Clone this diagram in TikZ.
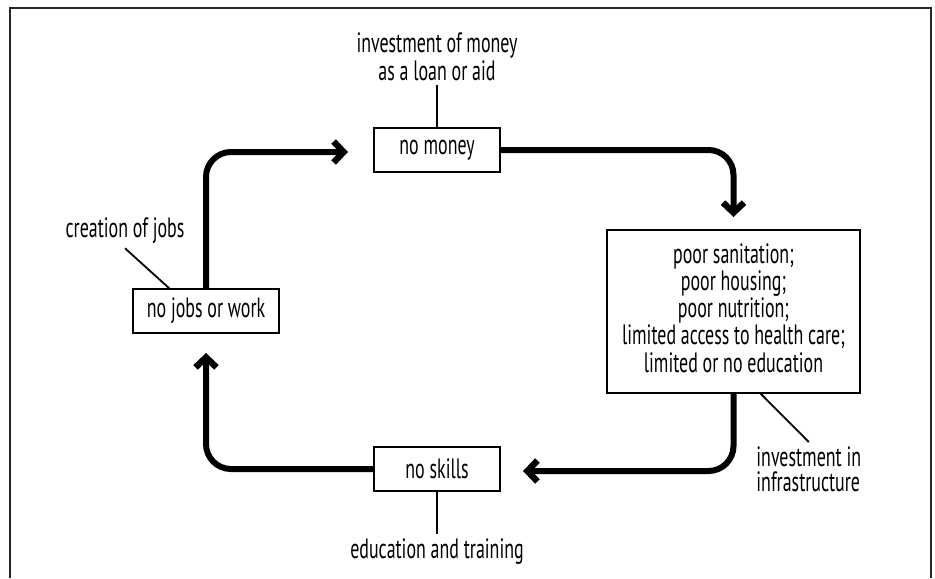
\documentclass[tikz,border=0pt]{standalone}
\usepackage{fontspec}
\setmainfont{PT Sans}[FakeStretch=0.64]
\usetikzlibrary{positioning,arrows.meta}

\tikzset{
  box/.style={draw, line width=0.8pt, minimum height=22pt, inner sep=0pt,
    align=center, font=\fontsize{14}{12.2}\selectfont},
  note/.style={align=center, inner sep=2pt, font=\fontsize{14}{12.5}\selectfont},
  flow/.style={line width=3pt, rounded corners=12.5pt,
    -{Straight Barb[length=5pt,width=10.5pt,line width=3.2pt]}},
  tag/.style={line width=0.9pt},
  frame/.style={line width=0.6pt, draw=black!85}
}

\begin{document}
\begin{tikzpicture}[x=0.5pt,y=-0.5pt]
  \useasboundingbox (0,0) rectangle (935,578);
  \draw[frame] (10,578) |- (931,8) -- (931,578);

  % the four boxes of the cycle
  \node (money) [box, minimum width=63pt] at (437,150) {no money};
  \node (poor) [box, minimum width=126.5pt, minimum height=81.5pt] at (733.5,311.5)
    {\raisebox{4.5pt}{\begin{tabular}{@{}c@{}}poor sanitation;\\poor housing;\\poor nutrition;\\limited access to health care;\\limited or no education\end{tabular}}};
  \node (skills) [box, minimum width=63pt] at (437,469) {no skills};
  \node (jobs) [box, minimum width=73pt] at (206,311) {no jobs or work};

  % ways out
  \node (loan) [note, above=21pt of money] {investment of money\\as a loan or aid};
  \draw[tag] (loan) -- (money);
  \node (training) [note, below=21pt of skills] {education and training};
  \draw[tag] (skills) -- (training);
  \node (creation) [note] at (125,231) {creation of jobs};
  \coordinate (jobsTag) at (170,289);
  \draw[tag] (creation.south) -- (jobsTag);
  \node (infra) [note, align=left, anchor=north west] at (752,442) {investment in\\infrastructure};
  \coordinate (poorTag) at (760,393);
  \draw[tag] (poorTag) -- (infra.north);

  % the cycle
  \coordinate (toMoney) at (348,152);
  \coordinate (toPoor) at (733.5,217);
  \coordinate (toSkills) at (523,471);
  \coordinate (toJobs) at (206,353);
  \draw[flow] (jobs.north) |- (toMoney);
  \draw[flow] (money.east) -| (toPoor);
  \draw[flow] (poor.south) |- (toSkills);
  \draw[flow] (skills.west) -| (toJobs);
\end{tikzpicture}
\end{document}
